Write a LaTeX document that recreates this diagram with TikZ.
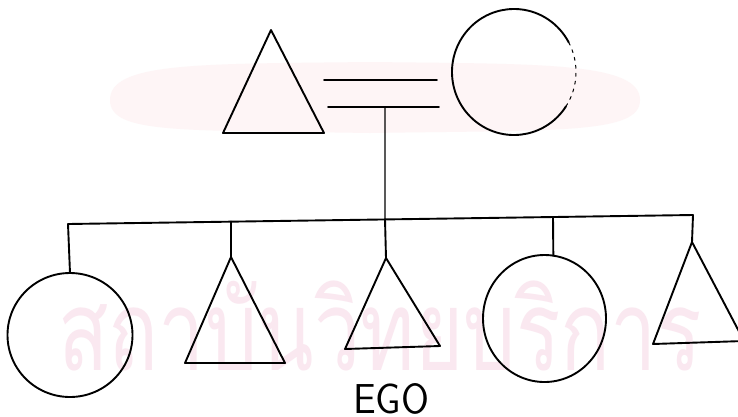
\documentclass[tikz,border=0pt]{standalone}
\usepackage{fontspec}
\newfontfamily\thaifont[Script=Thai]{Loma}
\usetikzlibrary{shapes.geometric,calc}
\definecolor{wmpink}{RGB}{250,232,240}
\definecolor{wmband}{RGB}{254,245,246}
\begin{document}
\begin{tikzpicture}[x=1pt,y=-1pt,
  kin/.style={draw=black,line width=1.9pt,line join=round,line cap=round},
  person/.style={ellipse,draw=black,line width=1.9pt,inner sep=0pt,outer sep=0pt}]
\useasboundingbox (0,0) rectangle (738,416);
\fill[white] (0,0) rectangle (738,416);
% faint watermark band and text
\fill[wmband] (110,100) .. controls (110,62) and (200,64) .. (370,62)
  .. controls (540,64) and (640,62) .. (640,100)
  .. controls (640,134) and (560,130) .. (370,133)
  .. controls (180,130) and (110,134) .. (110,100) -- cycle;
\node[anchor=base,text=wmpink,inner sep=0pt] (wm) at (380,370)
  {\resizebox{643pt}{!}{\scalebox{1}[1.35]{\thaifont สถาบันวิทยบริการ}}};
\begin{scope}
\clip (0,0) rectangle (738,416);
% parents
\coordinate (fa) at (271,30);
\coordinate (fl) at (223,133);
\coordinate (fr) at (324,133);
\draw[kin] (fa) -- (fl) -- (fr) -- cycle;
\node[ellipse,inner sep=0pt,minimum width=124pt,minimum height=126pt] (mother) at (514,72) {};
\draw[kin] ($(mother.center)+(33:62 and 63)$) arc[start angle=33,end angle=332,x radius=62,y radius=63];
\draw[kin,line width=1pt,dash pattern=on 3pt off 5pt] ($(mother.center)+(-28:62 and 63)$) arc[start angle=-28,end angle=33,x radius=62,y radius=63];
% marriage
\coordinate (m1a) at (324,80);
\coordinate (m1b) at (437,80);
\coordinate (m2a) at (328,107);
\coordinate (m2b) at (439,107);
\draw[kin] (m1a) -- (m1b);
\draw[kin] (m2a) -- (m2b);
\coordinate (desc) at (385,107);
% sibling bar
\coordinate (busL) at (68,224);
\coordinate (busR) at (693,215);
\path (busL) -- (busR)
  coordinate[pos=0.2608] (b2)
  coordinate[pos=0.5072] (b3)
  coordinate[pos=0.7760] (b4);
\draw[kin,line width=1.4pt] (desc) -- (b3);
% children
\node[person,minimum width=125pt,minimum height=124pt] (c1) at (70,335) {};
\draw[kin] (c1.north) -- (busL) -- (busR);
\coordinate (t2a) at (231,257);
\coordinate (t2l) at (185,363);
\coordinate (t2r) at (285,363);
\draw[kin] (t2a) -- (t2l) -- (t2r) -- cycle;
\draw[kin] (b2) -- (t2a);
\coordinate (t3a) at (386,258);
\coordinate (t3l) at (345,349);
\coordinate (t3r) at (440,346);
\draw[kin] (t3a) -- (t3l) -- (t3r) -- cycle;
\draw[kin] (b3) -- (t3a);
\node[person,minimum width=123pt,minimum height=127pt] (c4) at (544.5,318.5) {};
\draw[kin] (b4) -- (c4.82);
\coordinate (t5a) at (692,242);
\coordinate (t5l) at (653,344);
\coordinate (t5r) at (744,341);
\draw[kin] (t5a) -- (t5l) -- (t5r) -- cycle;
\draw[kin] (busR) -- (t5a);
\end{scope}
\node[inner sep=0pt] (ego) at (391,399) {\resizebox{76pt}{30pt}{\sffamily EGO}};
\end{tikzpicture}
\end{document}
